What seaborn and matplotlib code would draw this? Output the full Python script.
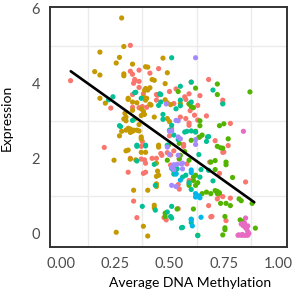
import pandas as pd
import seaborn as sns
import matplotlib.pyplot as plt
import numpy as np
from matplotlib.ticker import MultipleLocator

# Points, one list per colour group (x = methylation, y = expression)
grp1 = [(0.045,4.07),(0.32,5.01),(0.33,4.24),(0.34,4.06),(0.335,4.0),(0.36,4.35),(0.36,3.89),(0.38,3.72),
        (0.23,3.34),(0.36,3.35),(0.2,2.29),(0.37,2.32),(0.32,4.32),(0.34,4.1),(0.36,4.05),(0.45,4.39),
        (0.41,4.27),(0.53,3.85),(0.60,4.03),(0.68,4.1),(0.33,3.7),(0.44,3.7),(0.445,3.68),(0.50,3.78),
        (0.57,3.64),(0.59,3.72),(0.64,3.67),(0.33,3.36),(0.375,3.38),(0.395,3.36),(0.44,3.55),(0.59,3.45),
        (0.63,3.41),(0.595,3.27),(0.615,3.15),(0.67,3.13),(0.55,3.1),(0.575,3.06),(0.63,3.02),(0.52,3.46),
        (0.575,3.57),(0.59,2.88),(0.59,2.94),(0.5,2.6),(0.51,2.78),(0.565,2.37),(0.565,2.32),(0.64,2.57),
        (0.71,2.47),(0.77,2.34),(0.745,2.16),(0.745,3.55),(0.745,3.47),(0.78,2.93),(0.375,2.45),(0.32,2.0),
        (0.37,1.98),(0.385,1.96),(0.42,2.0),(0.44,2.0),(0.46,2.13),(0.465,2.08),(0.49,2.15),(0.505,2.09),
        (0.52,2.2),(0.505,1.82),(0.52,1.77),(0.545,1.98),(0.58,1.85),(0.39,1.63),(0.31,1.63),(0.38,1.6),
        (0.59,1.41),(0.59,1.33),(0.54,1.3),(0.545,1.18),(0.335,0.86),(0.35,0.42),(0.475,0.42),(0.485,0.36),
        (0.685,1.9),(0.75,2.17),(0.85,1.37),(0.73,1.6),(0.72,0.92),(0.745,0.98),(0.73,1.02),(0.78,0.94),
        (0.68,0.74),(0.695,0.45),(0.76,0.34),(0.54,0.66),(0.69,0.44),(0.39,1.87)]
grp2 = [(0.28,5.74),(0.29,4.98),(0.18,4.83),(0.27,4.69),(0.255,4.54),(0.156,4.31),(0.18,4.22),(0.29,4.25),
        (0.29,4.2),(0.4,4.43),(0.33,4.51),(0.39,4.44),(0.42,4.1),(0.43,4.08),(0.47,4.67),(0.49,4.28),
        (0.48,3.99),(0.18,3.6),(0.205,3.47),(0.31,3.6),(0.295,3.2),(0.3,3.1),(0.3,3.0),(0.29,3.05),
        (0.27,2.6),(0.3,2.75),(0.31,2.8),(0.32,2.78),(0.33,2.72),(0.335,2.75),(0.35,2.75),(0.37,2.57),
        (0.33,3.28),(0.31,3.57),(0.37,3.32),(0.38,3.25),(0.385,3.81),(0.39,3.86),(0.4,3.82),(0.41,3.88),
        (0.39,3.55),(0.38,3.63),(0.395,3.6),(0.33,3.5),(0.35,3.48),(0.41,3.44),(0.415,3.42),(0.48,3.56),
        (0.49,3.48),(0.505,3.43),(0.55,3.46),(0.385,3.17),(0.37,3.14),(0.49,3.06),(0.5,2.98),(0.3,2.2),
        (0.31,2.22),(0.245,1.95),(0.28,2.72),(0.32,2.69),(0.36,2.73),(0.37,2.52),(0.45,2.35),(0.45,2.3),
        (0.32,1.98),(0.345,1.96),(0.37,2.16),(0.39,2.16),(0.44,1.87),(0.445,1.66),(0.45,1.55),(0.44,1.52),
        (0.44,1.32),(0.44,1.25),(0.335,1.15),(0.4,1.15),(0.43,0.75),(0.43,0.68),(0.38,0.19),(0.255,0.03),
        (0.4,-0.07),(0.36,2.9),(0.34,3.05),(0.43,3.1)]
grp3 = [(0.62,3.87),(0.54,3.78),(0.59,3.45),(0.6,3.38),(0.61,3.35),(0.64,3.0),(0.64,2.87),(0.72,3.98),
        (0.72,3.7),(0.87,3.77),(0.73,2.87),(0.75,2.92),(0.77,2.52),(0.72,2.32),(0.735,2.28),(0.745,2.27),
        (0.62,2.72),(0.495,2.35),(0.545,2.4),(0.6,2.48),(0.635,2.56),(0.65,2.62),(0.55,2.08),(0.57,2.18),
        (0.49,1.95),(0.545,1.99),(0.59,1.95),(0.69,1.9),(0.71,1.94),(0.76,1.9),(0.76,1.83),(0.71,1.7),
        (0.61,1.41),(0.62,1.55),(0.59,1.28),(0.62,1.28),(0.61,1.5),(0.63,1.35),(0.79,1.49),(0.65,1.06),
        (0.67,1.1),(0.69,1.06),(0.72,1.06),(0.73,1.08),(0.71,1.14),(0.72,1.12),(0.735,0.8),(0.76,0.8),
        (0.78,0.74),(0.82,0.92),(0.83,0.87),(0.88,0.8),(0.535,0.65),(0.61,0.65),(0.48,0.54),(0.48,0.45),
        (0.755,0.45),(0.825,0.36),(0.835,0.32),(0.895,0.14),(0.755,0.1),(0.745,-0.04),(0.755,0.15),(0.63,-0.05)]
grp4 = [(0.24,3.64),(0.22,3.56),(0.27,2.87),(0.275,2.85),(0.33,3.01),(0.35,2.32),(0.39,2.33),(0.34,3.75),
        (0.37,3.6),(0.345,3.76),(0.51,4.68),(0.55,3.92),(0.46,3.7),(0.455,3.72),(0.45,3.41),(0.46,3.5),
        (0.55,3.55),(0.6,3.5),(0.47,3.17),(0.47,3.04),(0.51,2.88),(0.53,3.32),(0.55,3.4),(0.6,4.03),
        (0.7,3.82),(0.745,3.45),(0.6,2.73),(0.62,2.7),(0.57,2.7),(0.58,2.72),(0.5,2.75),(0.52,2.62),
        (0.54,2.5),(0.675,2.57),(0.67,2.45),(0.35,2.35),(0.39,2.35),(0.49,2.35),(0.35,1.93),(0.43,1.84),
        (0.51,1.73),(0.52,1.66),(0.53,1.6),(0.52,1.58),(0.535,1.72),(0.56,1.5),(0.575,1.55),(0.635,2.1),
        (0.645,1.7),(0.64,1.5),(0.59,1.35),(0.6,1.17),(0.68,2.58),(0.68,1.68),(0.70,1.4),(0.435,1.28),
        (0.375,0.72),(0.51,0.72),(0.435,0.62),(0.49,0.57),(0.505,0.45),(0.51,0.41),(0.6,0.38),(0.6,0.29),
        (0.56,0.16),(0.555,0.15),(0.63,-0.06)]
grp5 = [(0.6,1.69),(0.62,1.06),(0.62,0.97),(0.635,1.0),(0.64,0.95),(0.605,0.2),(0.6,0.36),(0.645,0.43),
        (0.53,1.58),(0.6,1.62),(0.55,1.42)]
grp6 = [(0.62,4.68),(0.485,3.45),(0.53,3.01),(0.54,3.0),(0.5,2.72),(0.51,2.73),(0.55,2.52),(0.62,2.5),
        (0.54,2.57),(0.49,2.3),(0.62,2.37),(0.5,2.1),(0.54,2.08),(0.56,1.87),(0.51,1.76),(0.52,1.7),
        (0.56,1.72),(0.52,1.83),(0.535,1.84),(0.555,1.85),(0.51,1.28),(0.53,1.25)]
grp7 = [(0.84,2.72),(0.85,0.41),(0.83,0.25),(0.845,0.28),(0.86,0.2),(0.855,0.12),(0.86,0.05),(0.82,-0.04),
        (0.83,-0.05),(0.84,-0.05),(0.85,-0.05),(0.86,-0.05),(0.835,-0.03),(0.865,0.0),(0.85,0.15),
        (0.84,0.2),(0.815,-0.05)]

groups = ["1", "2", "3", "4", "5", "6", "7"]
colors = ["#F8766D", "#C49A00", "#53B400", "#00C094", "#00B6EB", "#A58AFF", "#E76BC3"]

# fitted line end points
fit_x = [0.046, 0.89]
fit_y = [4.32, 0.83]

rows = []
for g, pts in zip(groups, [grp1, grp2, grp3, grp4, grp5, grp6, grp7]):
    for x, y in pts:
        rows.append({"meth": x, "expr": y, "group": g})
df = pd.DataFrame(rows)

sns.set_style("white")
plt.rcParams["font.family"] = ["Lato", "DejaVu Sans"]

fig = plt.figure(figsize=(2.97, 2.95), dpi=100)
ax = fig.add_axes([0.168, 0.163, 0.798, 0.813])

sns.scatterplot(data=df, x="meth", y="expr", hue="group", hue_order=groups,
                palette=colors, s=14, linewidth=0, legend=False, ax=ax, zorder=3)
sns.lineplot(x=fit_x, y=fit_y, color="black", linewidth=1.9, ax=ax, zorder=4)

ax.set_xlim(-0.05, 1.04)
ax.set_ylim(-0.36, 6.03)
ax.xaxis.set_major_locator(MultipleLocator(0.25))
ax.yaxis.set_major_locator(MultipleLocator(2))
ax.xaxis.set_minor_locator(MultipleLocator(0.25, offset=0.125))
ax.yaxis.set_minor_locator(MultipleLocator(2, offset=1))
ax.xaxis.set_major_formatter(plt.FuncFormatter(lambda v, p: f"{v:.2f}"))
ax.grid(False)
ax.grid(which="minor", color="#EBEBEB", linewidth=1.0, zorder=0)
ax.tick_params(which="minor", length=0)
ax.tick_params(which="major", length=3, width=1.2, color="#333333",
               labelcolor="#4D4D4D", labelsize=10.5, direction="out", pad=4)
for sp in ax.spines.values():
    sp.set_color("#333333")
    sp.set_linewidth(1.4)

ax.set_xlabel("Average DNA Methylation", fontsize=10, color="black", labelpad=3)
ax.set_ylabel("Expression", fontsize=10, color="black", labelpad=8)
ax.xaxis.set_label_coords(0.59, -0.125)
ax.yaxis.set_label_coords(-0.155, 0.54)

fig.savefig("out.png", dpi=100)
